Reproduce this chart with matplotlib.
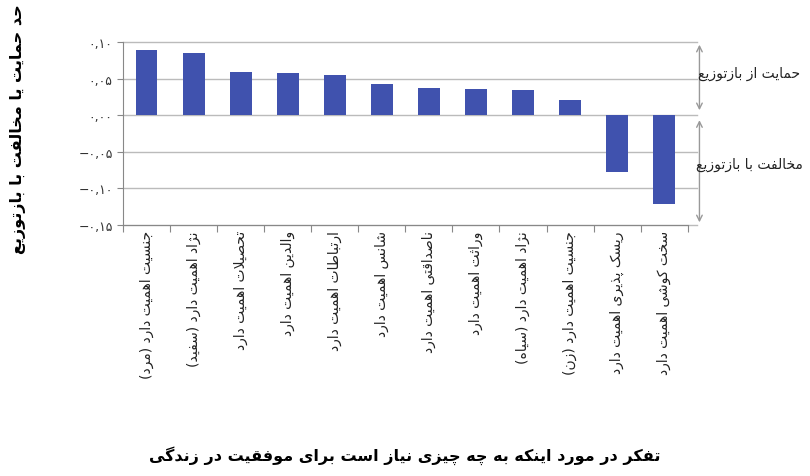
import matplotlib
matplotlib.use("Agg")
import matplotlib.pyplot as plt

categories = ["جنسیت اهمیت دارد (مرد)", "نژاد اهمیت دارد (سفید)", "تحصیلات اهمیت دارد",
              "والدین اهمیت دارد", "ارتباطات اهمیت دارد", "شانس اهمیت دارد",
              "ناصداقتی اهمیت دارد", "وراثت اهمیت دارد", "نژاد اهمیت دارد (سیاه)",
              "جنسیت اهمیت دارد (زن)", "ریسک پذیری اهمیت دارد", "سخت کوشی اهمیت دارد"]
values = [0.089, 0.085, 0.059, 0.058, 0.055, 0.042, 0.037, 0.036, 0.034, 0.021, -0.078, -0.121]
yticks = [0.10, 0.05, 0.0, -0.05, -0.10, -0.15]
yticklabels = ["۰,۱۰", "۰,۰۵", "۰,۰۰", "−۰,۰۵", "−۰,۱۰", "−۰,۱۵"]
xlabel = "تفکر در مورد اینکه به چه چیزی نیاز است برای موفقیت در زندگی"
ylabel = "حد حمایت یا مخالفت با بازتوزیع"
upper_note = "حمایت از بازتوزیع"
lower_note = "مخالفت با بازتوزیع"

# minimal Arabic/Persian shaper (isolated, final, initial, medial)
F = {
    'ا': (0xFE8D, 0xFE8E, None, None), 'آ': (0xFE81, 0xFE82, None, None),
    'ب': (0xFE8F, 0xFE90, 0xFE91, 0xFE92), 'پ': (0xFB56, 0xFB57, 0xFB58, 0xFB59),
    'ت': (0xFE95, 0xFE96, 0xFE97, 0xFE98), 'ث': (0xFE99, 0xFE9A, 0xFE9B, 0xFE9C),
    'ج': (0xFE9D, 0xFE9E, 0xFE9F, 0xFEA0), 'چ': (0xFB7A, 0xFB7B, 0xFB7C, 0xFB7D),
    'ح': (0xFEA1, 0xFEA2, 0xFEA3, 0xFEA4), 'خ': (0xFEA5, 0xFEA6, 0xFEA7, 0xFEA8),
    'د': (0xFEA9, 0xFEAA, None, None), 'ذ': (0xFEAB, 0xFEAC, None, None),
    'ر': (0xFEAD, 0xFEAE, None, None), 'ز': (0xFEAF, 0xFEB0, None, None),
    'ژ': (0xFB8A, 0xFB8B, None, None),
    'س': (0xFEB1, 0xFEB2, 0xFEB3, 0xFEB4), 'ش': (0xFEB5, 0xFEB6, 0xFEB7, 0xFEB8),
    'ص': (0xFEB9, 0xFEBA, 0xFEBB, 0xFEBC), 'ض': (0xFEBD, 0xFEBE, 0xFEBF, 0xFEC0),
    'ط': (0xFEC1, 0xFEC2, 0xFEC3, 0xFEC4), 'ظ': (0xFEC5, 0xFEC6, 0xFEC7, 0xFEC8),
    'ع': (0xFEC9, 0xFECA, 0xFECB, 0xFECC), 'غ': (0xFECD, 0xFECE, 0xFECF, 0xFED0),
    'ف': (0xFED1, 0xFED2, 0xFED3, 0xFED4), 'ق': (0xFED5, 0xFED6, 0xFED7, 0xFED8),
    'ک': (0xFB8E, 0xFB8F, 0xFB90, 0xFB91), 'گ': (0xFB92, 0xFB93, 0xFB94, 0xFB95),
    'ل': (0xFEDD, 0xFEDE, 0xFEDF, 0xFEE0), 'م': (0xFEE1, 0xFEE2, 0xFEE3, 0xFEE4),
    'ن': (0xFEE5, 0xFEE6, 0xFEE7, 0xFEE8), 'و': (0xFEED, 0xFEEE, None, None),
    'ه': (0xFEE9, 0xFEEA, 0xFEEB, 0xFEEC), 'ی': (0xFBFC, 0xFBFD, 0xFBFE, 0xFBFF),
}

def shape(s):
    out = []
    i = 0
    n = len(s)
    while i < n:
        c = s[i]
        if c not in F:
            out.append(c); i += 1; continue
        prev = s[i - 1] if i > 0 else None
        jp = prev in F and F[prev][2] is not None
        if c == 'ل' and i + 1 < n and s[i + 1] == 'ا':
            out.append(chr(0xFEFC if jp else 0xFEFB)); i += 2; continue
        nxt = s[i + 1] if i + 1 < n else None
        jn = F[c][2] is not None and nxt in F
        iso, fin, ini, med = F[c]
        if jp and jn: ch = med
        elif jp: ch = fin
        elif jn: ch = ini
        else: ch = iso
        out.append(chr(ch)); i += 1
    vis = ''.join(out)[::-1]
    return vis.translate(str.maketrans('()', ')('))

plt.rcParams['font.family'] = ['DejaVu Sans', 'Noto Sans']
fig = plt.figure(figsize=(8.1, 4.77), dpi=100)
ax = fig.add_axes([0.152, 0.526, 0.697, 0.384])
x = list(range(len(values)))
ax.bar(x, values, width=0.46, color='#4052AE', zorder=3)
ax.set_xlim(-0.5, len(values) - 0.5)
ax.set_ylim(-0.15, 0.10)
ax.set_yticks(yticks)
ax.set_yticklabels(yticklabels, fontsize=9, color='#333333')
ax.set_xticks([i + 0.5 for i in x[:-1]] + [-0.5, len(values) - 0.5])
ax.tick_params(axis='x', length=5, color='#888888', labelbottom=False)
ax.tick_params(axis='y', length=4, color='#888888')
for v in yticks:
    ax.plot([-0.5, len(values) - 0.3], [v, v], color='#bbbbbb', lw=1, clip_on=False, zorder=1)
for sp in ['top', 'right']:
    ax.spines[sp].set_visible(False)
for sp in ['left', 'bottom']:
    ax.spines[sp].set_color('#888888')
for i, c in enumerate(categories):
    ax.text(i, -0.157, shape(c), rotation=90, ha='center', va='top', fontsize=10,
            color='#222222')

xa = len(values) - 0.5 + 0.25
ax.annotate('', xy=(xa, 0.1), xytext=(xa, 0.003), annotation_clip=False,
            arrowprops=dict(arrowstyle='<->', color='#999999', lw=1))
ax.annotate('', xy=(xa, -0.003), xytext=(xa, -0.15), annotation_clip=False,
            arrowprops=dict(arrowstyle='<->', color='#999999', lw=1))
fig.text(0.925, 0.845, shape(upper_note), ha='center', va='center', fontsize=10, color='#222222')
fig.text(0.925, 0.655, shape(lower_note), ha='center', va='center', fontsize=10, color='#222222')
fig.text(0.5, 0.045, shape(xlabel), ha='center', va='center', fontsize=11.5, fontweight='bold')
fig.text(0.022, 0.73, shape(ylabel), rotation=90, ha='center', va='center', fontsize=11.5,
         fontweight='bold')
fig.savefig('out.png', dpi=100)
